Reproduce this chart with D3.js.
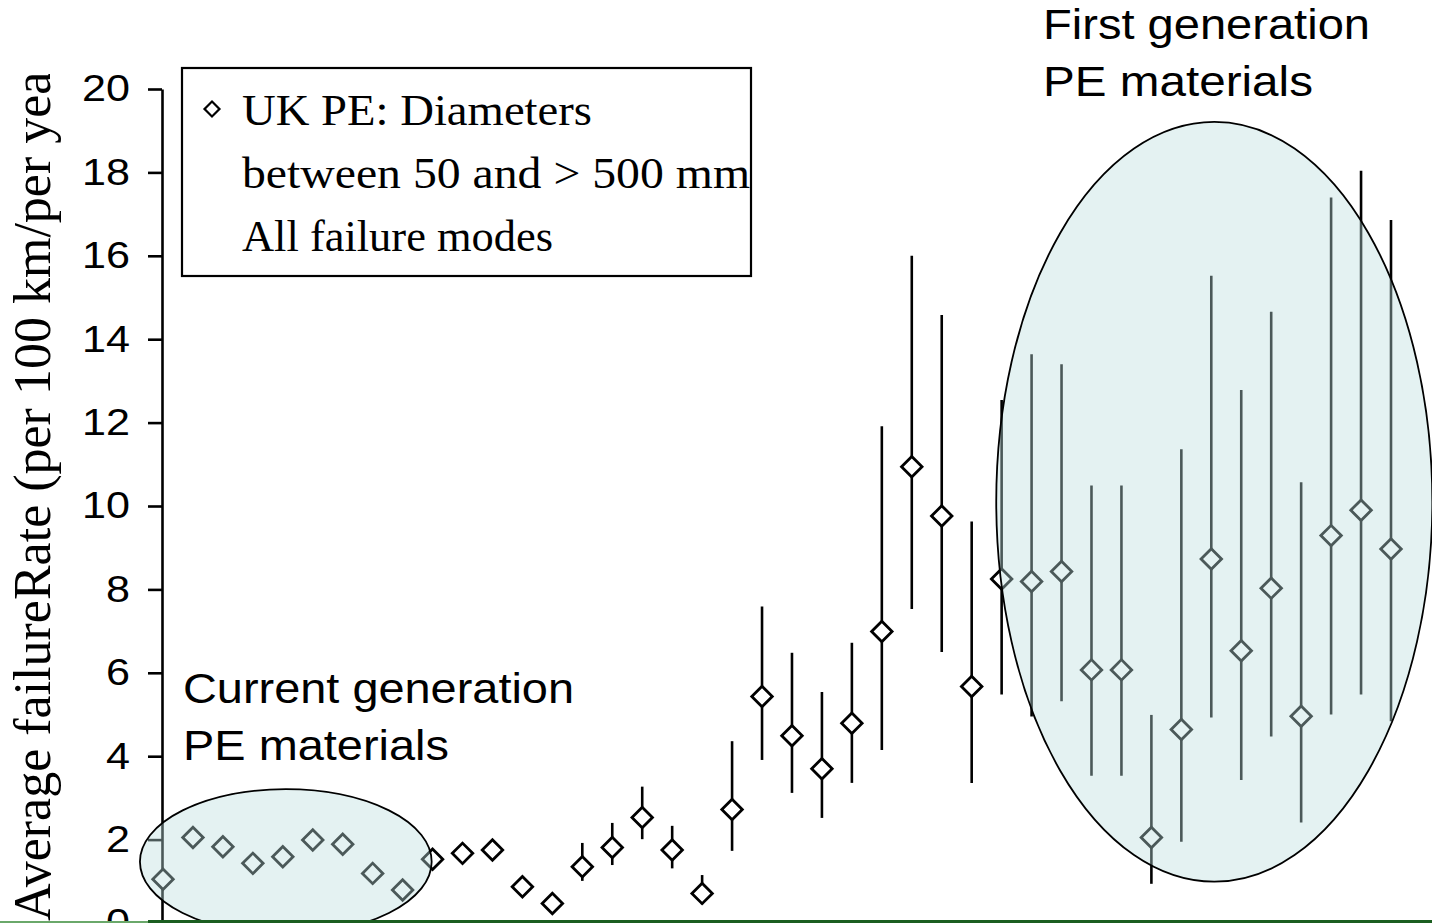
<!DOCTYPE html>
<html>
<head>
<meta charset="utf-8">
<script src="https://cdn.jsdelivr.net/npm/d3@7"></script>
<style>
  body { margin: 0; background: #fff; }
  svg { display: block; }
</style>
</head>
<body>
<div id="chart"></div>
<script>
// failure rate per point (index along x), with error bar bounds (null = no bar)
var rate  = [1.05, 2.05, 1.83, 1.43, 1.59, 1.99, 1.89, 1.19, 0.79, 1.53, 1.67, 1.75, 0.87, 0.47,
             1.35, 1.81, 2.53, 1.75, 0.71, 2.72, 5.43, 4.49, 3.70, 4.79, 6.99, 10.94, 9.76, 5.67,
             8.25, 8.19, 8.43, 6.07, 6.07, 2.05, 4.64, 8.73, 6.53, 8.03, 4.96, 9.29, 9.90, 8.97];
var lower = [null, null, null, null, null, null, null, null, null, null, null, null, null, null,
             1.01, 1.39, 2.01, 1.31, 0.45, 1.73, 3.91, 3.12, 2.52, 3.36, 4.15, 7.53, 6.50, 3.36,
             5.48, 4.95, 5.32, 3.53, 3.53, 0.94, 1.95, 4.93, 3.43, 4.47, 2.41, 5.00, 5.48, 4.84];
var upper = [null, null, null, null, null, null, null, null, null, null, null, null, null, null,
             1.92, 2.40, 3.27, 2.33, 1.15, 4.36, 7.59, 6.48, 5.54, 6.72, 11.91, 16.0, 14.58, 9.63,
             12.54, 13.64, 13.40, 10.49, 10.49, 4.99, 11.36, 15.52, 12.78, 14.66, 10.57, 17.40, 18.04, 16.86];
var y_ticks = [0, 2, 4, 6, 8, 10, 12, 14, 16, 18, 20];

// annotation ellipses in data units: [center index, center rate, half width (index), half height (rate)]
var group_current = [4.1, 1.47, 4.87, 1.74];
var group_first = [35.1, 10.1, 7.28, 9.11];

var legend_lines = ['UK PE: Diameters', 'between 50 and > 500 mm', 'All failure modes'];
var y_title = 'Average failureRate (per 100 km/per year)';

var chart_width = 1432;
var chart_height = 923;

var svg = d3.select('#chart')
  .append('svg')
  .attr('width', chart_width)
  .attr('height', chart_height);

var x_scale = d3.scaleLinear().domain([0, rate.length - 1]).range([163, 1391]);
var y_scale = d3.scaleLinear().domain([0, 20]).range([923, 89]);

var data = rate.map(function(d, i) {
  return { i: i, v: d, lo: lower[i], hi: upper[i] };
});

// y axis title, clipped at the top like the original text frame
svg.append('clipPath').attr('id', 'title-clip')
  .append('rect').attr('x', 0).attr('y', 74).attr('width', 100).attr('height', 860);
svg.append('g')
  .attr('clip-path', 'url(#title-clip)')
  .append('text')
  .attr('transform', 'translate(50,921) rotate(-90)')
  .attr('font-family', '"Liberation Serif", "Times New Roman", serif')
  .attr('font-size', 52)
  .attr('fill', '#000')
  .text(y_title);

// y axis
var y_axis = d3.axisLeft(y_scale)
  .tickValues(y_ticks)
  .tickSize(14)
  .tickSizeOuter(0)
  .tickPadding(18);

var axis_g = svg.append('g')
  .attr('transform', 'translate(162,0)')
  .call(y_axis);
axis_g.selectAll('path, line').attr('stroke', '#000').attr('stroke-width', 2.6);
axis_g.selectAll('text')
  .attr('font-family', '"Liberation Sans", Arial, sans-serif')
  .attr('font-size', 37)
  .attr('fill', '#000')
  .attr('textLength', function(d) { return String(d).length * 24; })
  .attr('lengthAdjust', 'spacingAndGlyphs');

// error bars
svg.selectAll('line.err')
  .data(data.filter(function(d) { return d.lo !== null; }))
  .enter()
  .append('line')
  .attr('class', 'err')
  .attr('x1', function(d) { return x_scale(d.i); })
  .attr('x2', function(d) { return x_scale(d.i); })
  .attr('y1', function(d) { return y_scale(d.lo); })
  .attr('y2', function(d) { return y_scale(d.hi); })
  .attr('stroke', '#000')
  .attr('stroke-width', 2.6);

// diamond markers
var diamond = d3.symbol().type(d3.symbolSquare).size(210);
svg.selectAll('path.pt')
  .data(data)
  .enter()
  .append('path')
  .attr('class', 'pt')
  .attr('d', diamond)
  .attr('transform', function(d) {
    return 'translate(' + x_scale(d.i) + ',' + y_scale(d.v) + ') rotate(45)';
  })
  .attr('fill', '#fff')
  .attr('stroke', '#000')
  .attr('stroke-width', 2.8);

// group ellipses drawn over the points (translucent)
[group_current, group_first].forEach(function(e) {
  svg.append('ellipse')
    .attr('cx', x_scale(e[0]))
    .attr('cy', y_scale(e[1]))
    .attr('rx', x_scale(e[2]) - x_scale(0))
    .attr('ry', y_scale(0) - y_scale(e[3]))
    .attr('fill', '#bbdede')
    .attr('fill-opacity', 0.4)
    .attr('stroke', '#000')
    .attr('stroke-width', 1.8);
});

// legend
var legend = svg.append('g');
legend.append('rect')
  .attr('x', 182).attr('y', 68)
  .attr('width', 569).attr('height', 208)
  .attr('fill', '#fff')
  .attr('stroke', '#000')
  .attr('stroke-width', 2.2);
legend.append('path')
  .attr('d', d3.symbol().type(d3.symbolSquare).size(112))
  .attr('transform', 'translate(212,109) rotate(45)')
  .attr('fill', '#fff')
  .attr('stroke', '#000')
  .attr('stroke-width', 2.2);
var legend_widths = [350, 508, 311];
legend.selectAll('text')
  .data(legend_lines)
  .enter()
  .append('text')
  .attr('x', 242)
  .attr('y', function(d, i) { return 125 + i * 63; })
  .attr('font-family', '"Liberation Serif", "Times New Roman", serif')
  .attr('font-size', 45)
  .attr('fill', '#000')
  .attr('textLength', function(d, i) { return legend_widths[i]; })
  .attr('lengthAdjust', 'spacingAndGlyphs')
  .text(function(d) { return d; });

// annotations
function note(lines, x, y0, widths) {
  lines.forEach(function(t, i) {
    svg.append('text')
      .attr('x', x)
      .attr('y', y0 + i * 57)
      .attr('font-family', '"Liberation Sans", Arial, sans-serif')
      .attr('font-size', 43)
      .attr('fill', '#000')
      .attr('textLength', widths[i])
      .attr('lengthAdjust', 'spacingAndGlyphs')
      .text(t);
  });
}
note(['Current generation', 'PE materials'], 183, 703, [391, 266]);
note(['First generation', 'PE materials'], 1043, 39, [327, 270]);

// slide border line at the bottom
svg.append('rect').attr('x', 0).attr('y', 921).attr('width', 148).attr('height', 2).attr('fill', '#6aa86a');
svg.append('rect').attr('x', 148).attr('y', 920).attr('width', chart_width - 148).attr('height', 3).attr('fill', '#1b5e20');
</script>
</body>
</html>
